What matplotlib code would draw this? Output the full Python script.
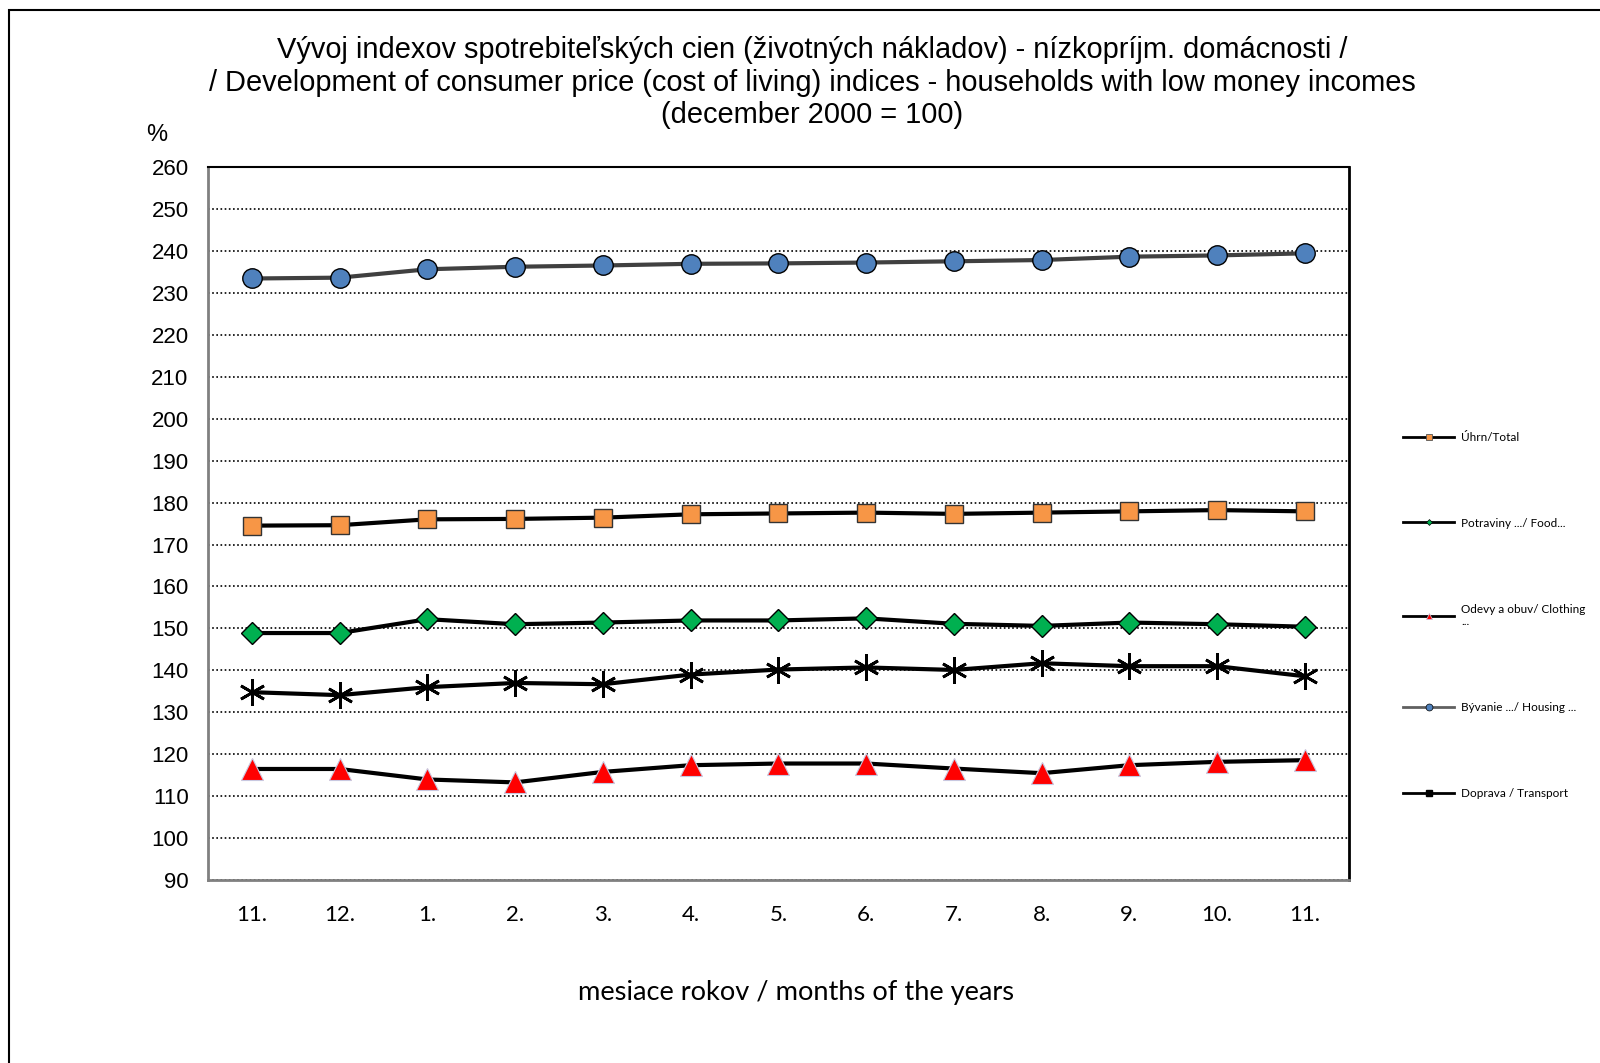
import matplotlib
matplotlib.use("Agg")
import matplotlib.pyplot as plt
from matplotlib.lines import Line2D
from matplotlib.patches import Rectangle

# mesiace (od 11. do 11. nasledujuceho roka)
months = ['11.', '12.', '1.', '2.', '3.', '4.', '5.', '6.', '7.', '8.', '9.', '10.', '11.']

total = [174.5, 174.6, 176.0, 176.1, 176.4, 177.2, 177.4, 177.6, 177.3, 177.6, 177.9, 178.2, 177.9]
food = [148.9, 148.9, 152.2, 151.0, 151.4, 151.9, 151.9, 152.4, 151.1, 150.6, 151.4, 151.0, 150.4]
clothing = [116.5, 116.5, 114.0, 113.3, 115.8, 117.4, 117.8, 117.8, 116.6, 115.5, 117.4, 118.2, 118.6]
housing = [233.4, 233.6, 235.6, 236.2, 236.5, 236.9, 237.0, 237.2, 237.5, 237.8, 238.6, 238.9, 239.4]
transport = [134.8, 134.1, 136.0, 137.0, 136.7, 139.0, 140.2, 140.7, 140.1, 141.7, 141.0, 141.0, 138.6]

labels = ['Úhrn/Total', 'Potraviny .../ Food...', 'Odevy a obuv/ Clothing\n...',
          'Bývanie .../ Housing ...', 'Doprava / Transport']

title = ('Vývoj indexov spotrebiteľských cien (životných nákladov) - nízkopríjm. domácnosti /\n'
         '/ Development of consumer price (cost of living) indices - households with low money incomes\n'
         '(december 2000 = 100)')

arial = 'Liberation Sans'
calibri = 'Lato'

fig = plt.figure(figsize=(16, 10.63), dpi=100)
ax = fig.add_axes([0.130, 0.172, 0.713, 0.671])

x = range(len(months))
lw = 3
ax.plot(x, housing, color='#404040', lw=lw, marker='o', ms=14, mfc='#4F81BD', mec='black', mew=1, zorder=3)
ax.plot(x, total, color='black', lw=lw, marker='s', ms=13.5, mfc='#F79646', mec='#333333', mew=1, zorder=3)
ax.plot(x, food, color='black', lw=lw, marker='D', ms=11.5, mfc='#00B050', mec='black', mew=1, zorder=3)
ax.plot(x, transport, color='black', lw=lw, marker=(6, 2, 0), ms=19, mec='black', mew=2, zorder=3)
ax.plot(x, clothing, color='black', lw=lw, marker='^', ms=15.5, mfc='#FF0000', mec='#C8C8E0', mew=0.8, zorder=3)

ax.set_xlim(-0.5, len(months) - 0.5)
ax.set_ylim(90, 260)
ax.set_yticks(range(90, 261, 10))
ax.set_xticks(list(x))
ax.set_xticklabels(months, fontfamily=calibri, fontsize=16)
for t in ax.get_yticklabels():
    t.set_fontfamily(arial)
    t.set_fontsize(16)
ax.tick_params(axis='both', length=0)
ax.tick_params(axis='x', pad=18)
ax.tick_params(axis='y', pad=14)
ax.grid(axis='y', color='black', linestyle=(0, (1, 1.5)), lw=1.2)
ax.set_axisbelow(True)

ax.spines['left'].set_color('#808080')
ax.spines['left'].set_linewidth(2)
ax.spines['bottom'].set_color('#808080')
ax.spines['bottom'].set_linewidth(2)
ax.spines['top'].set_color('black')
ax.spines['top'].set_linewidth(1.5)
ax.spines['right'].set_color('black')
ax.spines['right'].set_linewidth(2)

fig.text(0.5075, 0.966, title, ha='center', va='top', fontsize=20.9, fontfamily=arial, linespacing=1.2)
fig.text(0.098, 0.873, '%', ha='center', va='center', fontsize=17, fontfamily=arial)
fig.text(0.4975, 0.066, 'mesiace rokov / months of the years', ha='center', va='center',
         fontsize=19.6, fontfamily=calibri)

# legenda
handles = [
    Line2D([], [], color='black', lw=2, marker='s', ms=5, mfc='#F79646', mec='#555555', mew=0.6),
    Line2D([], [], color='black', lw=2, marker='D', ms=3, mfc='#00B050', mec='black', mew=0.5),
    Line2D([], [], color='black', lw=2, marker='^', ms=4, mfc='#FF0000', mec='#C8C8E0', mew=0.5),
    Line2D([], [], color='#606060', lw=2, marker='o', ms=5, mfc='#4F81BD', mec='black', mew=0.5),
    Line2D([], [], color='black', lw=2, marker='s', ms=4, mfc='black', mec='black'),
]
fig.legend(handles, labels, loc='center left', bbox_to_anchor=(0.877, 0.421), frameon=False,
           prop={'family': calibri, 'size': 8.5}, handlelength=4.3, handletextpad=0.6,
           labelspacing=6.35, borderpad=0, borderaxespad=0)

# ramik okolo grafu
fig.patches.append(Rectangle((9 / 1600, -0.1), 1.2, 0.1 + 1 - 10 / 1063, transform=fig.transFigure,
                             fill=False, edgecolor='black', lw=1.5))

fig.savefig('out.png', dpi=100)
